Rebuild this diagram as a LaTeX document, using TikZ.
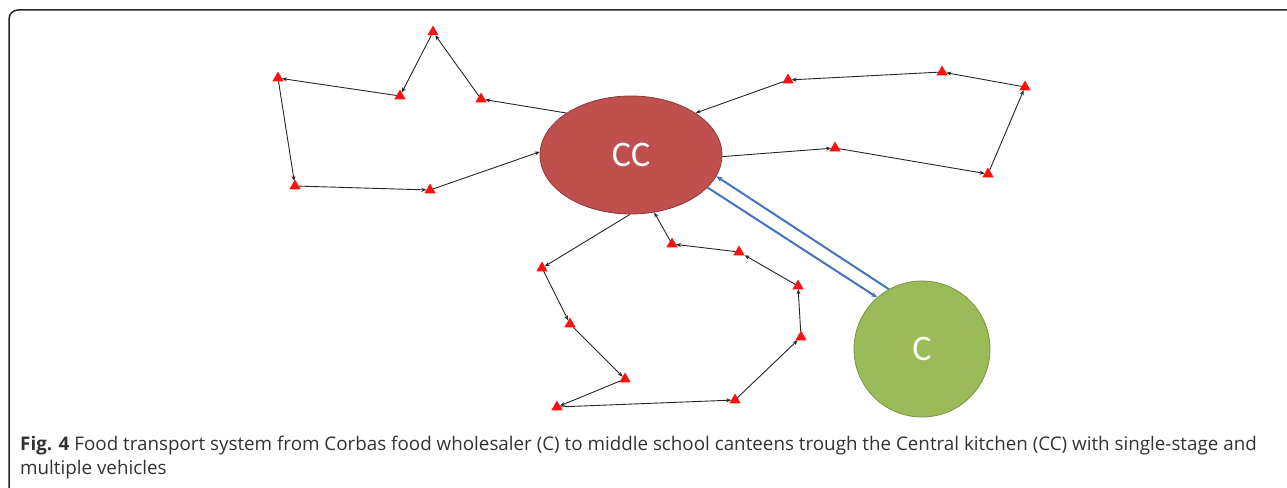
\documentclass[tikz,border=0pt]{standalone}
\usepackage{fontspec}
\setmainfont{Open Sans}
\newfontfamily\labelfont{Carlito}
\usetikzlibrary{shapes.geometric,arrows.meta}

\definecolor{kitchenred}{HTML}{C0504D}
\definecolor{kitchenedge}{HTML}{8C3A38}
\definecolor{wholegreen}{HTML}{9BBB59}
\definecolor{wholeedge}{HTML}{7A9440}
\definecolor{supplyblue}{HTML}{4472C4}
\definecolor{stopred}{HTML}{FF1010}

\tikzset{
  stop/.style={regular polygon, regular polygon sides=3, fill=stopred,
    minimum size=13pt, inner sep=0pt, outer sep=0pt},
  route/.style={draw=black!85, line width=0.9pt,
    -{Stealth[length=5pt,width=4pt]}},
  supply/.style={draw=supplyblue, line width=2pt,
    -{Stealth[length=6pt,width=5pt]}},
  hub/.style={ellipse, fill=kitchenred, draw=kitchenedge, line width=0.8pt,
    minimum width=182pt, minimum height=118pt, inner sep=0pt,
    text=white, font=\labelfont\fontsize{36}{36}\selectfont},
  depot/.style={circle, fill=wholegreen, draw=wholeedge, line width=0.8pt,
    minimum size=136pt, inner sep=0pt,
    text=white!95!yellow, font=\labelfont\fontsize{36}{36}\selectfont},
}

\begin{document}
\begin{tikzpicture}[x=1pt,y=-1pt]
\useasboundingbox (0,0) rectangle (1287,487);

% frame of the figure box
\draw[line width=1.5pt, black!85, rounded corners=9pt]
  (9,488) -- (9,10) -- (1288,10);

% central kitchen and wholesaler
\node[hub] (CC) at (631,155) {CC};
\node[depot] (C) at (922,349) {C};

% canteen stops, western loop
\node[stop] (a) at (433,32) {};
\node[stop] (b) at (400,96) {};
\node[stop] (c) at (278,78) {};
\node[stop] (d) at (295,186) {};
\node[stop] (e) at (430,190) {};
\node[stop] (f) at (481,99) {};

% canteen stops, eastern loop
\node[stop] (g) at (788,80) {};
\node[stop] (h) at (942,72) {};
\node[stop] (i) at (1025,87) {};
\node[stop] (j) at (988,174) {};
\node[stop] (k) at (835,148) {};

% canteen stops, southern loop
\node[stop] (l) at (542,268) {};
\node[stop] (m) at (570,324) {};
\node[stop] (n) at (625,379) {};
\node[stop] (o) at (557,407) {};
\node[stop] (p) at (735,400) {};
\node[stop] (q) at (801,337) {};
\node[stop] (r) at (798,286) {};
\node[stop] (s) at (739,252) {};
\node[stop] (t) at (672,244) {};

% western route
\draw[route] (CC.147) -- (f);
\draw[route] (f) -- (a);
\draw[route] (a) -- (b);
\draw[route] (b) -- (c);
\draw[route] (c) -- (d);
\draw[route] (d) -- (e);
\draw[route] (e) -- (CC.178);

% eastern route
\draw[route] (CC.-1) -- (k);
\draw[route] (k) -- (j);
\draw[route] (j) -- (i);
\draw[route] (i) -- (h);
\draw[route] (h) -- (g);
\draw[route] (g) -- (CC.33);

% southern route
\draw[route] (CC.269) -- (l);
\draw[route] (l) -- (m);
\draw[route] (m) -- (n);
\draw[route] (n) -- (o);
\draw[route] (o) -- (p);
\draw[route] (p) -- (q);
\draw[route] (q) -- (r);
\draw[route] (r) -- (s);
\draw[route] (s) -- (t);
\draw[route] (t) -- (CC.292);

% supply link between wholesaler and kitchen
\draw[supply] (C.119) -- (CC.-14);
\draw[supply] (CC.-23) -- (C.131);

% caption (base anchor sits on the last line)
\node[anchor=base west, align=left, inner sep=0pt, text=black!80,
  font=\fontsize{18.8}{24.5}\selectfont] (caption) at (20,474.5)
  {\textbf{Fig. 4} Food transport system from Corbas food wholesaler (C) to middle school canteens trough the Central kitchen (CC) with single-stage and\\multiple vehicles};
\end{tikzpicture}
\end{document}
